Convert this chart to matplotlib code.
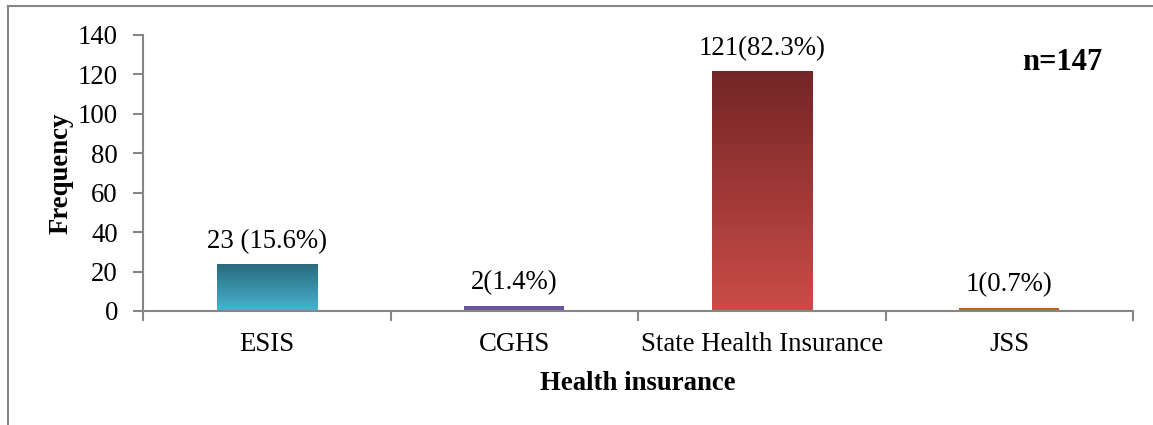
import numpy as np
import matplotlib.pyplot as plt
from matplotlib.colors import LinearSegmentedColormap

categories = ["ESIS", "CGHS", "State Health Insurance", "JSS"]
counts = [23, 2, 121, 1]
labels = ["23 (15.6%)", "2(1.4%)", "121(82.3%)", "1(0.7%)"]
# gradient colours per bar: (bottom, top)
bar_colors = [("#47b3cf", "#2a6a7c"),
              ("#6a56a0", "#4a3a78"),
              ("#ca4c48", "#732525"),
              ("#c85d1e", "#b04c12")]

plt.rcParams['font.family'] = ['Liberation Serif', 'DejaVu Serif']
fs = 19.3

fig = plt.figure(figsize=(11.53, 4.25), dpi=100)
ax = fig.add_axes([143 / 1153, 1 - 311 / 425, 990 / 1153, 276 / 425])

x = np.arange(len(categories))
bars = ax.bar(x, counts, width=0.405, bottom=0.5, color=[c[0] for c in bar_colors],
              linewidth=0, zorder=3)

grad = np.linspace(0, 1, 256).reshape(-1, 1)
for b, (c0, c1) in zip(bars, bar_colors):
    cmap = LinearSegmentedColormap.from_list('g', [c0, c1])
    x0, w, h = b.get_x(), b.get_width(), b.get_height()
    if h >= 5:
        ax.imshow(grad, cmap=cmap, origin='lower', aspect='auto',
                  extent=[x0, x0 + w, 0.5, 0.5 + h], zorder=3.1, interpolation='bilinear')

for xi, v, lab in zip(x, counts, labels):
    ax.text(xi, v + 6, lab, ha='center', va='bottom', fontsize=fs)

ax.set_xlim(-0.5, len(categories) - 0.5)
ax.set_ylim(0, 140)
ax.set_yticks(range(0, 141, 20))
ax.set_xticks(x)
ax.set_xticklabels(categories, fontsize=fs)
ax.set_xticks(np.arange(-0.5, len(categories)), minor=True)
ax.tick_params(axis='x', which='major', length=0, pad=15)
ax.tick_params(axis='x', which='minor', length=7, width=1.5, color='#868686', direction='out')
ax.tick_params(axis='y', length=7, width=1.5, color='#868686', labelsize=fs, pad=11)

for s in ['top', 'right']:
    ax.spines[s].set_visible(False)
for s in ['left', 'bottom']:
    ax.spines[s].set_color('#868686')
    ax.spines[s].set_linewidth(1.5)

ax.set_ylabel('Frequency', fontsize=fs, fontweight='bold', labelpad=3)
ax.set_xlabel('Health insurance', fontsize=fs, fontweight='bold', labelpad=10)

fig.text(1022 / 1153, 1 - 62 / 425, 'n=147', fontsize=22, fontweight='bold',
         ha='left', va='center')

# outer frame (top and left edges)
fig.add_artist(plt.Line2D([8 / 1153, 8 / 1153], [0, 1 - 6 / 425], color='#868686', lw=1.5))
fig.add_artist(plt.Line2D([8 / 1153, 1], [1 - 6 / 425, 1 - 6 / 425], color='#868686', lw=1.5))

fig.savefig('out.png', dpi=100)
